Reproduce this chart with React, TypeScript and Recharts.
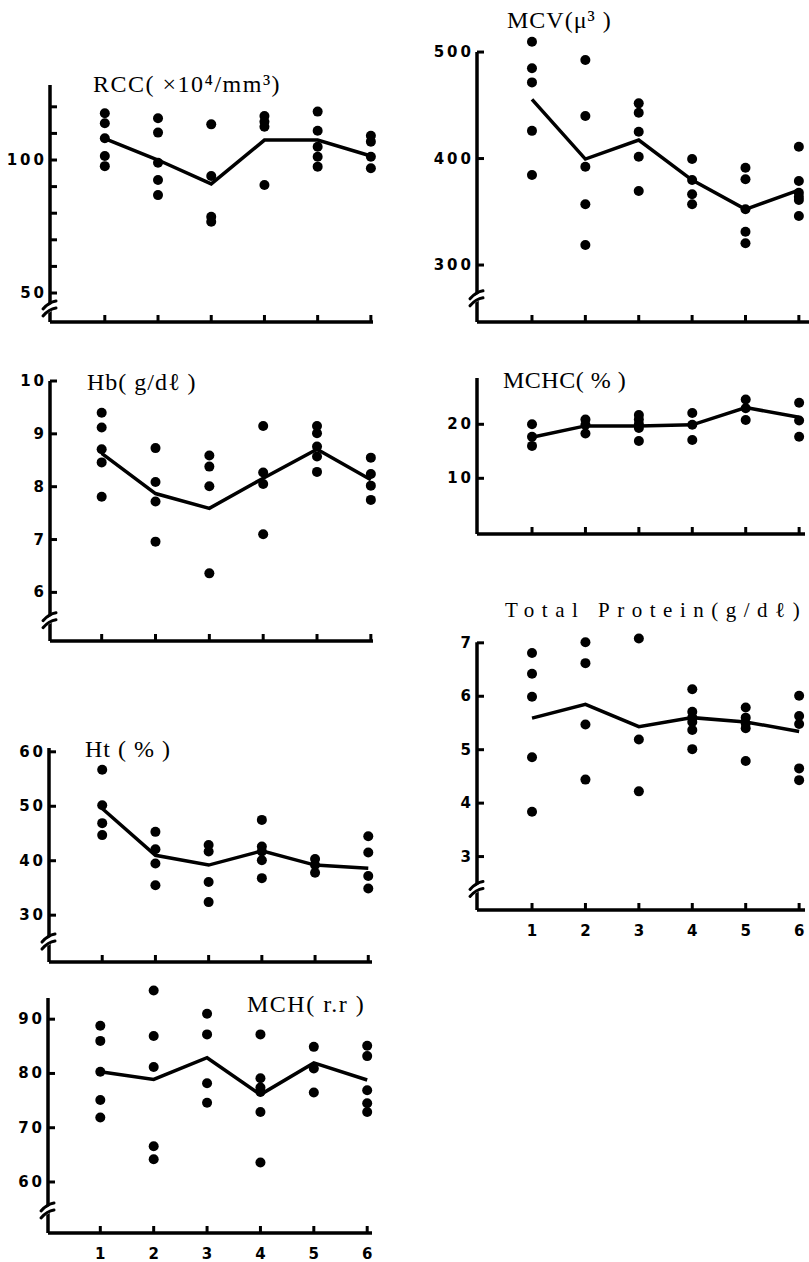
import {
  ComposedChart, Scatter, Line, XAxis, YAxis, ReferenceLine, ReferenceDot,
} from 'recharts';

const GROUPS = [1, 2, 3, 4, 5, 6];

// individual values per group
const RCC_POINTS = [
  [117.6, 113.8, 108.2, 101.5, 97.7],
  [115.7, 110.3, 99, 92.5, 86.8],
  [113.4, 94, 78.7, 76.8],
  [116.5, 114.4, 112.5, 90.6],
  [118.2, 111, 105, 101.2, 97.5],
  [109.1, 106.9, 101.2, 96.9],
];
const RCC_MEAN = [108, 100, 91, 107.5, 107.5, 101.5];

const MCV_POINTS = [
  [509.7, 484.7, 471.5, 426, 384.5],
  [492.5, 439.9, 392.3, 357, 318.8],
  [451.8, 443, 425.2, 401.7, 369.5],
  [399.5, 379.8, 366.4, 357],
  [391.4, 380.5, 352.3, 331.3, 320.4],
  [411.1, 378.9, 367.9, 364.1, 361, 346],
];
const MCV_MEAN = [455.6, 399.5, 417.4, 379.8, 352.3, 370.4];

const HB_POINTS = [
  [9.4, 9.12, 8.71, 8.46, 7.81],
  [8.73, 8.09, 7.72, 6.96],
  [8.59, 8.38, 8.01, 6.36],
  [9.15, 8.27, 8.05, 7.1],
  [9.15, 9.01, 8.76, 8.57, 8.28],
  [8.55, 8.24, 8.02, 7.75],
];
const HB_MEAN = [8.63, 7.87, 7.59, 8.16, 8.71, 8.13];

const MCHC_POINTS = [
  [20, 17.7, 16],
  [20.9, 19.9, 18.3],
  [21.7, 20.9, 20.05, 19.3, 16.9],
  [22.1, 19.9, 17.1],
  [24.6, 22.96, 20.8],
  [24, 20.7, 17.7],
];
const MCHC_MEAN = [17.6, 19.7, 19.7, 19.9, 23.1, 21.3];

const HT_POINTS = [
  [56.7, 50.2, 46.9, 44.7],
  [45.3, 42.1, 39.5, 35.5],
  [42.9, 41.7, 36.1, 32.4],
  [47.5, 42.6, 41.7, 40.1, 36.8],
  [40.3, 39.2, 37.8],
  [44.5, 41.5, 37.2, 34.9],
];
const HT_MEAN = [49.6, 41.0, 39.2, 41.8, 39.2, 38.6];

const TP_POINTS = [
  [6.81, 6.42, 5.99, 4.86, 3.84],
  [7.01, 6.62, 5.47, 4.44],
  [7.08, 5.19, 4.22],
  [6.13, 5.71, 5.6, 5.52, 5.37, 5.01],
  [5.79, 5.6, 5.49, 5.4, 4.79],
  [6.01, 5.63, 5.48, 4.65, 4.43],
];
const TP_MEAN = [5.59, 5.85, 5.43, 5.6, 5.52, 5.34];

const MCH_POINTS = [
  [88.8, 86.0, 80.3, 75.1, 71.9],
  [95.3, 86.9, 81.2, 66.6, 64.2],
  [91.0, 87.2, 78.2, 74.6],
  [87.2, 79.1, 77.4, 76.6, 72.9, 63.6],
  [84.9, 80.9, 76.5],
  [85.1, 83.2, 76.9, 74.5, 72.9],
];
const MCH_MEAN = [80.3, 78.9, 82.9, 76.1, 81.95, 78.8];

// y ticks and which of them carry a label
const RCC_TICKS = [50, 60, 70, 80, 90, 100, 110, 120];
const RCC_LABELS = [50, 100];
const MCV_TICKS = [300, 400, 500];
const HB_TICKS = [6, 7, 8, 9, 10];
const MCHC_TICKS = [10, 20];
const HT_TICKS = [30, 40, 50, 60];
const TP_TICKS = [3, 4, 5, 6, 7];
const MCH_TICKS = [60, 70, 80, 90];

const YW = 45;
const MT = 10;
const MR = 8;
const XH = 34;
const TICK_FONT = '"DejaVu Sans", sans-serif';
const TITLE_FONT = '"Liberation Serif", "DejaVu Serif", serif';

function BreakMark(props: any) {
  const { cx, cy } = props;
  return (
    <g>
      <polygon
        points={`${cx - 5},${cy + 3} ${cx + 5},${cy - 3} ${cx + 5},${cy + 4} ${cx - 5},${cy + 10}`}
        fill="#fff"
      />
      <path d={`M${cx - 7},${cy + 4} Q${cx - 1},${cy - 3} ${cx + 6},${cy - 4}`} stroke="#000" strokeWidth={3} fill="none" strokeLinecap="round" />
      <path d={`M${cx - 7},${cy + 11} Q${cx - 1},${cy + 4} ${cx + 6},${cy + 3}`} stroke="#000" strokeWidth={3} fill="none" strokeLinecap="round" />
    </g>
  );
}

interface PanelProps {
  points: number[][];
  mean: number[];
  yTicks: number[];
  yLabels?: number[];
  axisX: number;
  plotTop: number;
  plotBottom: number;
  plotRight: number;
  yDomain: [number, number];
  axisTop: number;
  xDomain: [number, number];
  breakAt?: number;
  xLabels?: boolean;
}

function Panel(p: PanelProps) {
  const plotW = p.plotRight - p.axisX;
  const plotH = p.plotBottom - p.plotTop;
  const width = YW + plotW + MR;
  const height = MT + plotH + XH;
  const bottomY = MT + plotH;
  const labeled = p.yLabels || p.yTicks;

  const dots = p.points.flatMap((vals, i) => vals.map((v) => ({ x: GROUPS[i], y: v })));
  const meanRows = p.mean.map((v, i) => ({ x: GROUPS[i], y: v }));

  const yTick = (t: any) => (
    <g>
      <line x1={YW} x2={YW + 7} y1={t.y} y2={t.y} stroke="#000" strokeWidth={3} />
      {labeled.includes(t.payload.value) && (
        <text
          x={YW - 3}
          y={t.y}
          textAnchor="end"
          dominantBaseline="central"
          fontFamily={TICK_FONT}
          fontWeight="bold"
          fontSize={15}
          letterSpacing={3}
          fill="#000"
        >
          {t.payload.value}
        </text>
      )}
    </g>
  );

  const xTick = (t: any) => (
    <g>
      <line x1={t.x} x2={t.x} y1={bottomY} y2={bottomY - 7} stroke="#000" strokeWidth={3} />
      {p.xLabels && (
        <text
          x={t.x}
          y={bottomY + 21}
          textAnchor="middle"
          dominantBaseline="central"
          fontFamily={TICK_FONT}
          fontWeight="bold"
          fontSize={15}
          fill="#000"
        >
          {t.payload.value}
        </text>
      )}
    </g>
  );

  return (
    <div style={{ position: 'absolute', left: p.axisX - YW, top: p.plotTop - MT }}>
      <ComposedChart
        width={width}
        height={height}
        data={meanRows}
        margin={{ top: MT, right: MR, bottom: 0, left: 0 }}
      >
        <XAxis
          type="number"
          dataKey="x"
          domain={p.xDomain}
          ticks={GROUPS}
          interval={0}
          height={XH}
          axisLine={{ stroke: '#000', strokeWidth: 3.5 }}
          tickLine={false}
          tick={xTick}
        />
        <YAxis
          type="number"
          dataKey="y"
          domain={p.yDomain}
          ticks={p.yTicks}
          interval={0}
          width={YW}
          axisLine={false}
          tickLine={false}
          tick={yTick}
        />
        <ReferenceLine
          segment={[{ x: p.xDomain[0], y: p.yDomain[0] }, { x: p.xDomain[0], y: p.axisTop }]}
          stroke="#000"
          strokeWidth={3.5}
          ifOverflow="visible"
        />
        {p.breakAt !== undefined && (
          <ReferenceDot x={p.xDomain[0]} y={p.breakAt} shape={BreakMark} ifOverflow="visible" />
        )}
        <Line
          dataKey="y"
          stroke="#000"
          strokeWidth={3.5}
          dot={false}
          isAnimationActive={false}
        />
        <Scatter
          data={dots}
          dataKey="y"
          isAnimationActive={false}
          shape={(s: any) => <circle cx={s.cx} cy={s.cy} r={5} fill="#000" />}
        />
      </ComposedChart>
    </div>
  );
}

function Title({ text, left, top, size = 24, spacing = 1 }: { text: string; left: number; top: number; size?: number; spacing?: number }) {
  return (
    <div
      style={{
        position: 'absolute',
        left,
        top,
        fontFamily: TITLE_FONT,
        fontSize: size,
        lineHeight: 1,
        letterSpacing: spacing,
        whiteSpace: 'pre',
        color: '#000',
      }}
    >
      {text}
    </div>
  );
}

export default function App() {
  return (
    <div
      style={{
        position: 'absolute',
        left: 0,
        top: 0,
        width: 809,
        height: 1262,
        overflow: 'hidden',
        background: '#fff',
      }}
    >
      <Panel
        points={RCC_POINTS} mean={RCC_MEAN} yTicks={RCC_TICKS} yLabels={RCC_LABELS}
        axisX={50} plotTop={85} plotBottom={322} plotRight={373}
        yDomain={[39.1, 128.2]} axisTop={128.2} xDomain={[-0.03, 6.04]} breakAt={45.5}
      />
      <Panel
        points={MCV_POINTS} mean={MCV_MEAN} yTicks={MCV_TICKS}
        axisX={477} plotTop={30} plotBottom={322} plotRight={809}
        yDomain={[246.5, 520.7]} axisTop={500} xDomain={[-0.03, 6.19]} breakAt={272}
      />
      <Panel
        points={HB_POINTS} mean={HB_MEAN} yTicks={HB_TICKS}
        axisX={50} plotTop={381} plotBottom={641} plotRight={373}
        yDomain={[5.08, 10.0]} axisTop={10} xDomain={[0.04, 6.04]} breakAt={5.54}
      />
      <Panel
        points={MCHC_POINTS} mean={MCHC_MEAN} yTicks={MCHC_TICKS}
        axisX={477} plotTop={378} plotBottom={534} plotRight={805}
        yDomain={[-0.31, 28.57]} axisTop={28.57} xDomain={[-0.03, 6.11]}
      />
      <Panel
        points={HT_POINTS} mean={HT_MEAN} yTicks={HT_TICKS}
        axisX={49} plotTop={748} plotBottom={962} plotRight={372}
        yDomain={[21.4, 60.7]} axisTop={60.7} xDomain={[0, 6.07]} breakAt={25.8}
      />
      <Panel
        points={TP_POINTS} mean={TP_MEAN} yTicks={TP_TICKS}
        axisX={477} plotTop={630} plotBottom={910} plotRight={805}
        yDomain={[2.0, 7.24]} axisTop={7.01} xDomain={[-0.03, 6.11]} breakAt={2.46} xLabels
      />
      <Panel
        points={MCH_POINTS} mean={MCH_MEAN} yTicks={MCH_TICKS}
        axisX={48} plotTop={985} plotBottom={1233} plotRight={372}
        yDomain={[50.6, 96.3]} axisTop={93.9} xDomain={[0.02, 6.09]} breakAt={55.4} xLabels
      />

      <Title text="RCC( ×10⁴/mm³)" left={93} top={72} spacing={1.5} />
      <Title text="MCV(μ³ )" left={507} top={8} spacing={1} />
      <Title text="Hb( g/dℓ )" left={87} top={370} spacing={1} />
      <Title text="MCHC( % )" left={503} top={368} spacing={0.5} />
      <Title text="Ht ( % )" left={85} top={737} spacing={1} />
      <Title text="Total Protein(g/dℓ)" left={505} top={600} size={21} spacing={7.5} />
      <Title text="MCH( r.r )" left={247} top={992} spacing={1.5} />
    </div>
  );
}
